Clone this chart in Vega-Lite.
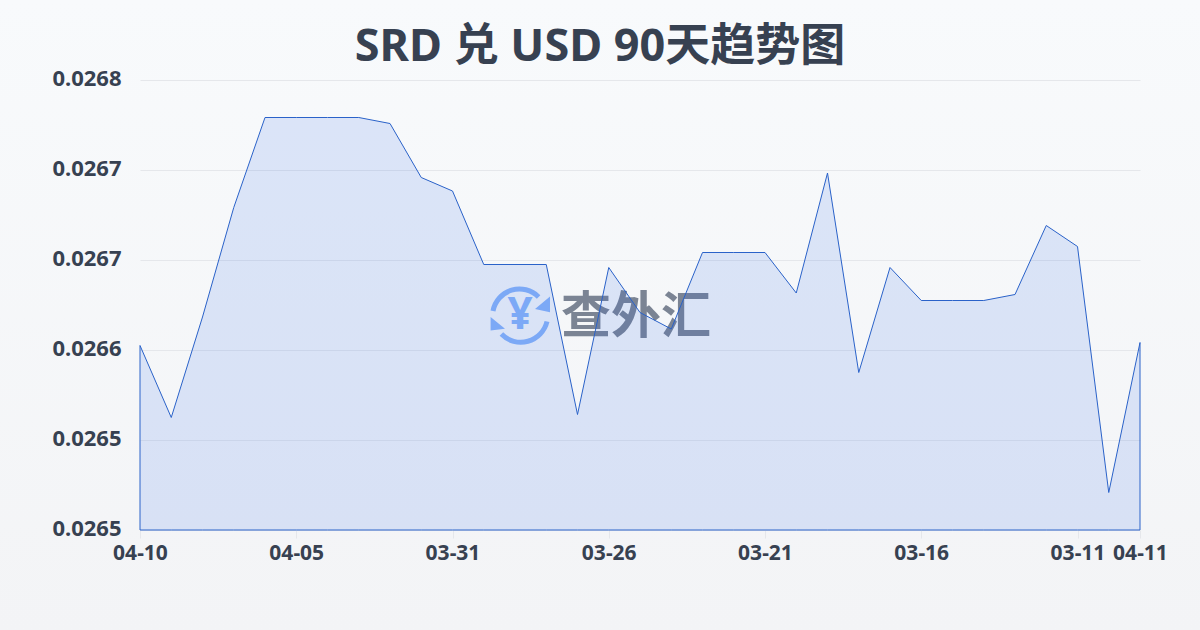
{"$schema":"https://vega.github.io/schema/vega-lite/v6.json","width":1200,"height":630,"autosize":{"type":"none"},"padding":0,"view":{"stroke":null,"fill":{"gradient":"linear","x1":0,"y1":0,"x2":0,"y2":1,"stops":[{"offset":0,"color":"#f8fafc"},{"offset":1,"color":"#f3f4f6"}]}},"title":{"text":"SRD 兑 USD 90天趋势图","fontSize":45,"fontWeight":"bold","font":"Noto Sans, Noto Sans CJK SC","color":"#374151","anchor":"middle","baseline":"alphabetic","offset":-106},"config":{"font":"Noto Sans"},"data":{"values":[{"date":"04-10","rate":0.026603},{"date":"04-09","rate":0.026555},{"date":"04-08","rate":0.026622},{"date":"04-07","rate":0.026695},{"date":"04-06","rate":0.026755},{"date":"04-05","rate":0.026755},{"date":"04-04","rate":0.026755},{"date":"04-03","rate":0.026755},{"date":"04-02","rate":0.026751},{"date":"04-01","rate":0.026715},{"date":"03-31","rate":0.026706},{"date":"03-30","rate":0.026657},{"date":"03-29","rate":0.026657},{"date":"03-28","rate":0.026657},{"date":"03-27","rate":0.026557},{"date":"03-26","rate":0.026655},{"date":"03-25","rate":0.026625},{"date":"03-24","rate":0.026614},{"date":"03-23","rate":0.026665},{"date":"03-22","rate":0.026665},{"date":"03-21","rate":0.026665},{"date":"03-20","rate":0.026638},{"date":"03-19","rate":0.026718},{"date":"03-18","rate":0.026585},{"date":"03-17","rate":0.026655},{"date":"03-16","rate":0.026633},{"date":"03-15","rate":0.026633},{"date":"03-14","rate":0.026633},{"date":"03-13","rate":0.026637},{"date":"03-12","rate":0.026683},{"date":"03-11","rate":0.026669},{"date":"03-10","rate":0.026505},{"date":"04-11","rate":0.026605}]},"encoding":{"x":{"field":"date","type":"ordinal","sort":null,"scale":{"type":"point","padding":0,"range":[140,1140],"domain":["04-10","04-09","04-08","04-07","04-06","04-05","04-04","04-03","04-02","04-01","03-31","03-30","03-29","03-28","03-27","03-26","03-25","03-24","03-23","03-22","03-21","03-20","03-19","03-18","03-17","03-16","03-15","03-14","03-13","03-12","03-11","03-10","04-11"]},"axis":{"title":null,"offset":-100,"values":["04-10","04-05","03-31","03-26","03-21","03-16","03-11","04-11"],"labelAngle":0,"labelFont":"Noto Sans","labelFontSize":21,"labelFontWeight":"bold","labelColor":"#374151","labelPadding":4,"labelOverlap":false,"labelBound":false,"labelFlush":false,"domain":false,"ticks":true,"tickColor":"#e5e7eb","tickSize":8,"grid":false}},"y":{"field":"rate","type":"quantitative","scale":{"domain":[0.02648,0.02678],"nice":false,"zero":false,"range":[530,80]},"axis":{"title":null,"offset":-140,"values":[0.02648,0.02654,0.0266,0.02666,0.02672,0.02678],"format":".4f","labelFont":"Noto Sans","labelFontSize":22,"labelFontWeight":"bold","labelColor":"#374151","labelPadding":19,"labelOffset":-2,"domain":false,"ticks":false,"grid":true,"gridColor":"#e5e7eb","gridWidth":1}}},"layer":[{"data":{"values":[{"date":"03-25","rate":0.026623,"label":"查外汇"}]},"mark":{"type":"text","font":"Noto Sans CJK SC","fontWeight":"bold","fontSize":50,"fill":"#7b8494","dx":-4,"dy":2,"align":"center","baseline":"middle"},"encoding":{"text":{"field":"label"}}},{"data":{"values":[{"date":"03-29","rate":0.026623,"label":"¥"}]},"mark":{"type":"text","font":"Noto Sans","fontWeight":"bold","fontSize":44,"fill":"#8ab4f8","dx":5,"align":"center","baseline":"middle"},"encoding":{"text":{"field":"label"}}},{"data":{"values":[{"date":"03-29","rate":0.026623}]},"mark":{"type":"point","filled":false,"size":3600,"xOffset":5,"stroke":"#8ab4f8","strokeWidth":5,"opacity":1,"shape":"M -0.9 -0.15 A 0.9 0.9 0 0 1 0.62 -0.62 M 0.9 0.2 A 0.9 0.9 0 0 1 -0.62 0.62"}},{"data":{"values":[{"date":"03-29","rate":0.026623}]},"mark":{"type":"point","filled":true,"size":3600,"xOffset":5,"fill":"#8ab4f8","opacity":1,"shape":"M 1 -0.63 L 1 -0.11 L 0.5 -0.22 Z M -0.98 0.05 L -0.98 0.5 L -0.5 0.44 Z"}},{"mark":{"type":"area","fill":"#2563eb","fillOpacity":0.135,"stroke":"#2a62c9","strokeWidth":1,"strokeOpacity":1,"interpolate":"linear"},"encoding":{"y2":{"datum":0.02648}}}]}
